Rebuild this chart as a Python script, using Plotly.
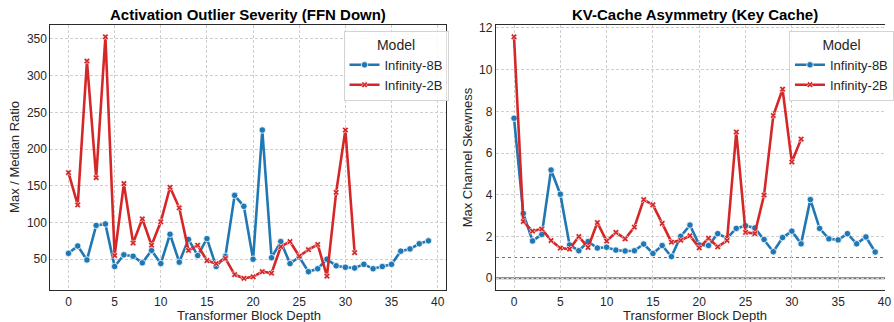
import plotly.graph_objects as go

layers_8b = list(range(40))
layers_2b = list(range(32))

ffn_8b = [58, 68, 49, 96, 98, 40, 56, 54, 45, 62, 44, 84, 46, 77, 55, 78, 40, 54, 137, 122,
          50, 226, 52, 74, 44, 53, 33, 37, 50, 41, 39, 38, 43, 37, 40, 43, 61, 64, 71, 75]
ffn_2b = [168, 124, 320, 161, 353, 55, 153, 72, 105, 69, 101, 148, 120, 62, 69, 48, 44, 51, 29, 24,
          26, 33, 31, 67, 74, 54, 63, 70, 27, 141, 226, 59]

kv_8b = [7.67, 3.11, 1.79, 2.10, 5.19, 4.03, 1.60, 1.32, 1.76, 1.45, 1.49, 1.35, 1.31, 1.32, 1.64,
         1.19, 1.57, 1.04, 2.01, 2.55, 1.60, 1.57, 2.14, 1.92, 2.39, 2.52, 2.41, 1.86, 1.27, 1.95,
         2.26, 1.65, 3.77, 2.39, 1.89, 1.84, 2.14, 1.65, 1.98, 1.26]
kv_2b = [11.57, 2.72, 2.26, 2.36, 1.81, 1.45, 1.40, 2.00, 1.48, 2.67, 1.78, 2.20, 1.89, 2.45, 3.77,
         3.52, 2.63, 1.73, 1.82, 2.04, 1.46, 1.92, 1.51, 1.81, 7.01, 2.20, 2.14, 3.99, 7.80, 9.06,
         5.57, 6.67]

x_ticks = [0, 5, 10, 15, 20, 25, 30, 35, 40]
BLUE = "#1f77b4"
RED = "#d62728"
FONT = "Liberation Sans, Arial, sans-serif"

W, H = 894, 322
fig = go.Figure()

def add_pair(xa, ya, y8, y2, legend):
    fig.add_trace(go.Scatter(
        x=layers_8b, y=y8, mode="lines+markers", name="Infinity-8B",
        line=dict(color=BLUE, width=2.6),
        marker=dict(symbol="circle", size=6.5, color=BLUE, line=dict(color="white", width=0.8)),
        xaxis=xa, yaxis=ya, legend=legend))
    fig.add_trace(go.Scatter(
        x=layers_2b, y=y2, mode="lines+markers", name="Infinity-2B",
        line=dict(color=RED, width=2.6),
        marker=dict(symbol="x", size=5.5, color=RED, line=dict(color="white", width=0.6)),
        xaxis=xa, yaxis=ya, legend=legend))

add_pair("x", "y", ffn_8b, ffn_2b, "legend")
add_pair("x2", "y2", kv_8b, kv_2b, "legend2")

ytop = 1 - 21 / H
ybot = 1 - 290 / H

axis_common = dict(
    showgrid=True, gridcolor="#cfcfcf", gridwidth=0.8, griddash="3px,2px",
    zeroline=False, showline=True, linecolor="#2b2b2b", linewidth=1.3,
    ticks="", tickfont=dict(family=FONT, size=12, color="#262626"),
)

legend_common = dict(
    y=1 - 27 / H, yanchor="top", xanchor="left",
    bgcolor="rgba(255,255,255,0.85)", bordercolor="#d4d4d4", borderwidth=1,
    title=dict(text="Model", side="top center", font=dict(size=14)),
    font=dict(size=13), tracegroupgap=0,
)

fig.update_layout(
    width=W, height=H, margin=dict(l=0, r=0, t=0, b=0),
    paper_bgcolor="white", plot_bgcolor="white",
    font=dict(family=FONT, color="#262626"),
    xaxis=dict(domain=[51 / W, 451 / W], range=[-1.95, 40.95], tickvals=x_ticks,
               mirror=True, anchor="y", **axis_common),
    yaxis=dict(domain=[ybot, ytop], range=[7.5, 369.4], tickvals=[50, 100, 150, 200, 250, 300, 350],
               mirror=True, anchor="x", **axis_common),
    xaxis2=dict(domain=[501 / W, 1.0], range=[-1.95, 40.06], tickvals=x_ticks,
                mirror=True, anchor="y2", **axis_common),
    yaxis2=dict(domain=[ybot, ytop], range=[-0.58, 12.15], tickvals=[0, 2, 4, 6, 8, 10, 12],
                mirror=False, anchor="x2", **axis_common),
    legend=dict(x=347 / W, **legend_common),
    legend2=dict(x=797 / W, **legend_common),
    showlegend=True,
)

# reference lines on the right panel
fig.add_shape(type="line", xref="x2 domain", yref="y2", x0=0, x1=1, y0=0, y1=0,
              line=dict(color="#707070", width=2), layer="below")
fig.add_shape(type="line", xref="x2 domain", yref="y2", x0=0, x1=1, y0=1, y1=1,
              line=dict(color="#707070", width=1.1, dash="dot"), layer="below")

def ann(text, x, y, size=13, angle=0, bold=False):
    fig.add_annotation(text=f"<b>{text}</b>" if bold else text, x=x / W, y=1 - y / H,
                       xref="paper", yref="paper", showarrow=False, textangle=angle,
                       font=dict(size=size, color="black" if bold else "#262626", family=FONT),
                       xanchor="center", yanchor="middle")

ann("Activation Outlier Severity (FFN Down)", 251, 11, size=15, bold=True)
ann("KV-Cache Asymmetry (Key Cache)", 702, 11, size=15, bold=True)
ann("Transformer Block Depth", 252, 315.5)
ann("Transformer Block Depth", 702, 315.5)
ann("Max / Median Ratio", 14, 155, angle=-90)
ann("Max Channel Skewness", 472, 155, angle=-90)

fig.write_html("out.html", config={"displayModeBar": False},
               post_script="document.body.style.margin='0';document.body.style.overflow='hidden';")
